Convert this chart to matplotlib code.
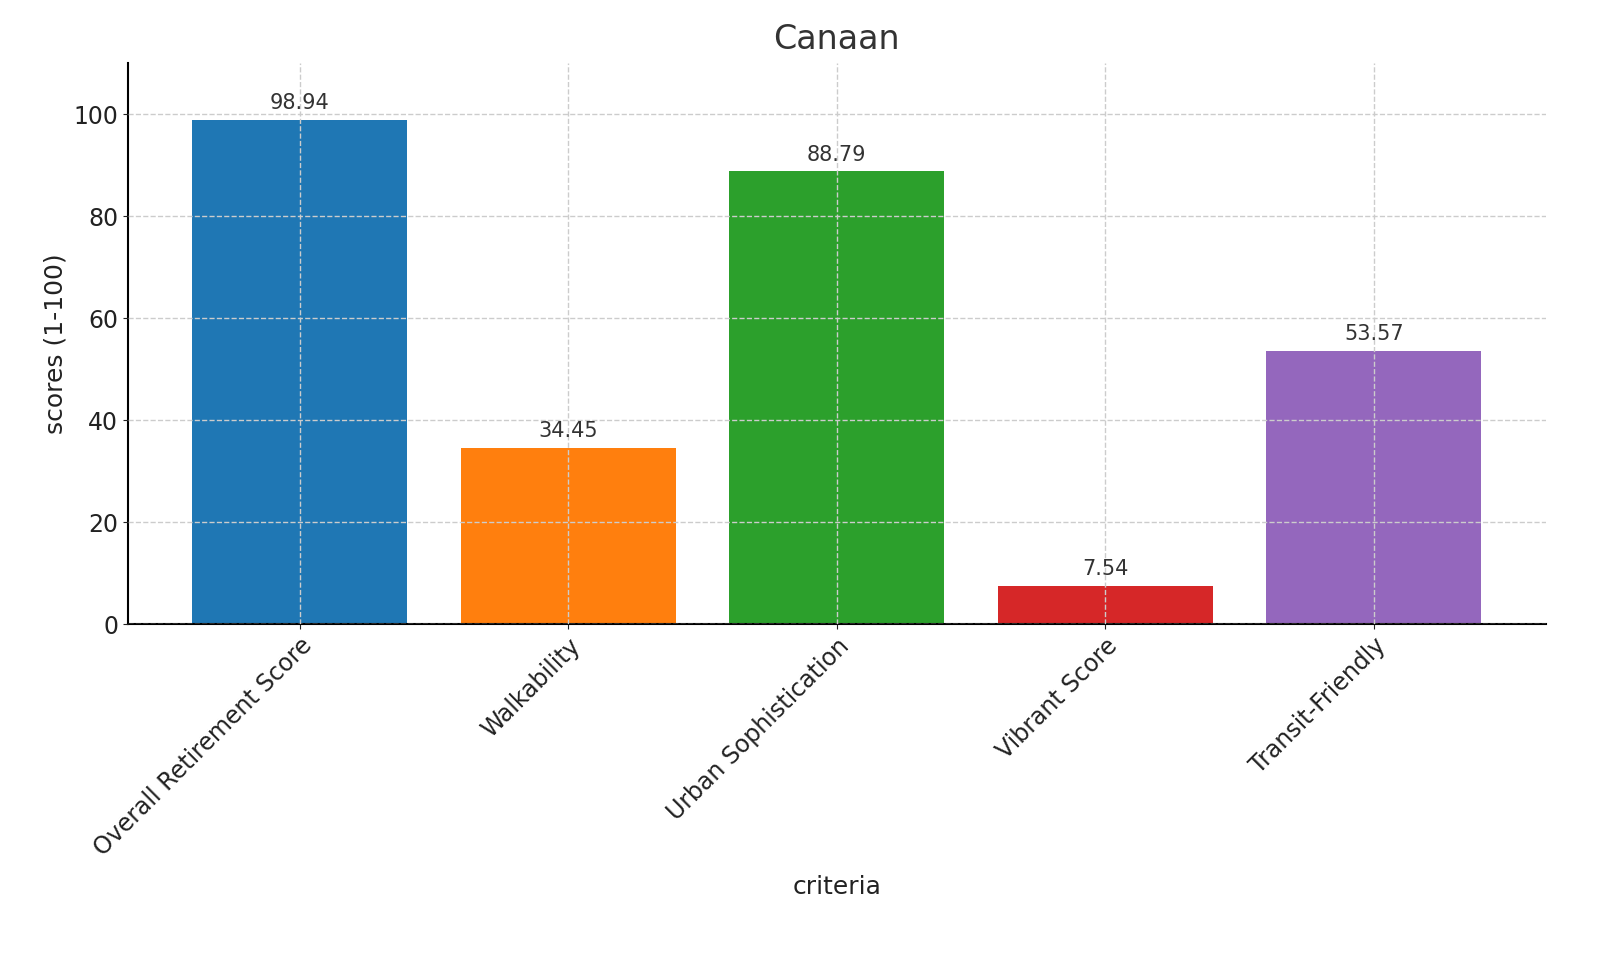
import matplotlib
matplotlib.use("Agg")
import matplotlib.pyplot as plt

categories = ["Overall Retirement Score", "Walkability", "Urban Sophistication", "Vibrant Score", "Transit-Friendly"]
scores = [98.94, 34.45, 88.79, 7.54, 53.57]
colors = ["#1f77b4", "#ff7f0e", "#2ca02c", "#d62728", "#9467bd"]

fig = plt.figure(figsize=(16, 9.6), dpi=100)
ax = fig.add_axes([0.08, 0.35, 0.886, 0.584])
bars = ax.bar(categories, scores, color=colors, width=0.8)
ax.set_ylim(0, 110)
ax.set_xlim(-0.64, 4.64)
ax.grid(True, linestyle="--", color="#cccccc", linewidth=1)
ax.set_axisbelow(False)
for s in ["top", "right"]:
    ax.spines[s].set_visible(False)
ax.spines["left"].set_linewidth(1.5)
ax.spines["bottom"].set_linewidth(1.5)
for b, v in zip(bars, scores):
    ax.annotate(f"{v:.2f}", (b.get_x() + b.get_width() / 2, v), xytext=(0, 5),
                textcoords="offset points", ha="center", va="bottom", fontsize=15, color="#333333")
ax.set_title("Canaan", fontsize=24, color="#333333", pad=10)
ax.set_xlabel("criteria", fontsize=18, color="#222222", labelpad=10)
ax.set_ylabel("scores (1-100)", fontsize=18, color="#222222")
ax.tick_params(axis="both", labelsize=17, colors="#222222")
plt.setp(ax.get_xticklabels(), rotation=45, ha="right", rotation_mode="anchor")
fig.savefig("out.png", dpi=100)
